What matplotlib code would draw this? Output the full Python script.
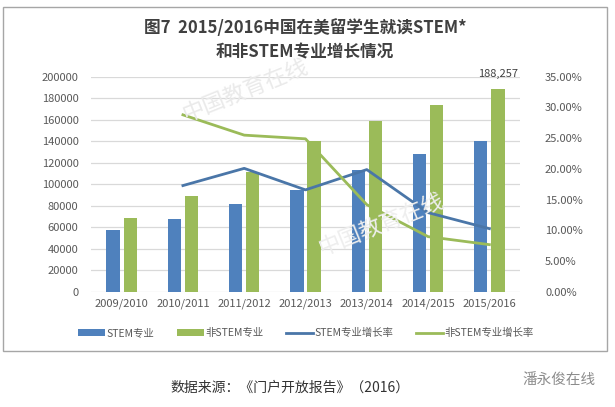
import numpy as np
from matplotlib import pyplot as plt
from matplotlib.patches import Rectangle
from matplotlib.ticker import FuncFormatter, MultipleLocator

plt.rcParams['font.family'] = ['Noto Sans CJK SC', 'DejaVu Sans']

# data
years      = ['2009/2010', '2010/2011', '2011/2012', '2012/2013', '2013/2014', '2014/2015', '2015/2016']
stem       = [57500, 67500, 81500, 95000, 113600, 127800, 140000]
non_stem   = [69000, 89000, 111500, 140000, 159000, 174000, 188257]
stem_rate  = [None, 17.3, 20.1, 16.6, 19.9, 12.9, 10.3]
non_rate   = [None, 28.8, 25.5, 24.9, 14.2, 9.0, 7.7]

blue   = '#4F81BD'
green  = '#9BBB59'
lblue  = '#4A76A8'
lgreen = '#9BBB59'
txt    = '#595959'

fig = plt.figure(figsize=(6.15, 4.07), dpi=100)
ax  = fig.add_axes([91/615, 1-292/407, (520-91)/615, (292-76.7)/407])

x  = np.arange(len(years))
bw = 0.215
b1 = ax.bar(x - 0.14, stem, bw, color=blue, label='STEM专业', zorder=2)
b2 = ax.bar(x + 0.14, non_stem, bw, color=green, label='非STEM专业', zorder=2)
ax.set_xlim(-0.5, len(years) - 0.5)
ax.set_ylim(0, 200000)
ax.yaxis.set_major_locator(MultipleLocator(20000))
ax.grid(axis='y', color='#D9D9D9', lw=0.9, zorder=0)
ax.set_axisbelow(True)
for s in ax.spines.values():
    s.set_visible(False)
ax.set_xticks(x)
ax.set_xticklabels(years)
ax.tick_params(length=0, labelsize=8, colors=txt, pad=9)
ax.tick_params(axis='x', pad=5)

ax.annotate('188,257', (x[-1] + 0.14, 200000), xytext=(0, 2), textcoords='offset points',
            ha='center', va='center', fontsize=8, color='#404040')

ax2 = ax.twinx()
ax2.set_ylim(0, 35)
ax2.yaxis.set_major_locator(MultipleLocator(5))
ax2.yaxis.set_major_formatter(FuncFormatter(lambda v, p: '%.2f%%' % v))
for s in ax2.spines.values():
    s.set_visible(False)
ax2.tick_params(length=0, labelsize=8, colors=txt, pad=18)

l1, = ax2.plot(x[1:], stem_rate[1:], color=lblue, lw=2, label='STEM专业增长率')
l2, = ax2.plot(x[1:], non_rate[1:], color=lgreen, lw=2, label='非STEM专业增长率')

fig.legend([b1, b2, l1, l2], [h.get_label() for h in (b1, b2, l1, l2)],
           loc='center', bbox_to_anchor=(306/615, 1-333/407), ncol=4, frameon=False,
           fontsize=7.5, labelcolor=txt, handlelength=2.6, handleheight=0.6,
           handletextpad=0.1, columnspacing=2.2)

# title
fig.text(305/615, 1-28/407, '图7  2015/2016中国在美留学生就读STEM*', ha='center', va='center',
         fontsize=12, color='#404040', fontweight='bold')
fig.text(305/615, 1-52/407, '和非STEM专业增长情况', ha='center', va='center',
         fontsize=12, color='#404040', fontweight='bold')

# faint watermarks
fig.text(0.40, 0.78, '中国教育在线', rotation=22, fontsize=16, color='#EAEAEA',
         ha='center', va='center', zorder=0)
fig.text(0.62, 0.45, '中国教育在线', rotation=22, fontsize=16, color='#EEEEEE',
         ha='center', va='center', zorder=0)

# chart frame
fig.add_artist(Rectangle((3/615, 1-351/407), 604/615, 344/407, transform=fig.transFigure,
                         fill=False, edgecolor='#A6A6A6', lw=1))

fig.text(290/615, 1-388/407, '数据来源：《门户开放报告》（2016）', ha='center', va='center',
         fontsize=10, color='#333333')
fig.text(596/615, 1-380/407, '潘永俊在线', ha='right', va='center', fontsize=10.5, color='#8C8C8C')

fig.savefig('out.png', dpi=100)
